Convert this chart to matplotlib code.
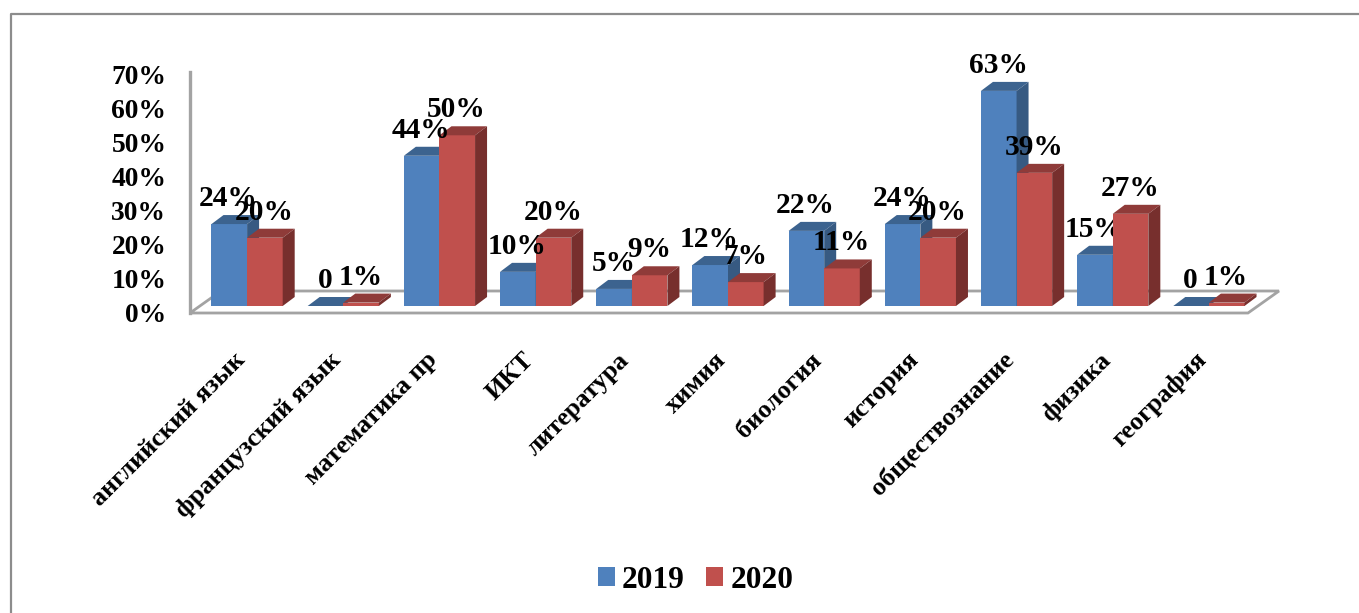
import matplotlib
matplotlib.use('Agg')
import matplotlib.pyplot as plt
from matplotlib.patches import Patch, Polygon
from matplotlib.lines import Line2D

# Данные
predmety = ['английский язык', 'французский язык', 'математика пр', 'ИКТ', 'литература',
            'химия', 'биология', 'история', 'обществознание', 'физика', 'география']
v2019 = [24, 0, 44, 10, 5, 12, 22, 24, 63, 15, 0]
v2020 = [20, 1, 50, 20, 9, 7, 11, 20, 39, 27, 1]
serii = ['2019', '2020']
yticks = [0, 10, 20, 30, 40, 50, 60, 70]

W, H = 1359, 613
plt.rcParams['font.family'] = ['Liberation Serif', 'DejaVu Serif']
plt.rcParams['font.weight'] = 'bold'

fig = plt.figure(figsize=(W / 100, H / 100), dpi=100)

# Оси: передний край пола и левая стенка (в пикселях картинки)
left, right, bottom, top = 190, 1248, 313, 74
ax = fig.add_axes([left / W, 1 - bottom / H, (right - left) / W, (bottom - top) / H])
ax.set_xlim(-0.5, 10.5)
ax.set_ylim(0, 70)
ax.patch.set_visible(False)
for s in ax.spines.values():
    s.set_visible(False)

# Размер одного пикселя в единицах данных
px = 11 / (right - left)
py = 70 / (bottom - top)
GRAY = '#a3a3a3'

# Рамка диаграммы: видны только верх и левый край
fig.add_artist(Line2D([10.5 / W, 10.5 / W, 1], [0, 1 - 14 / H, 1 - 14 / H],
                      transform=fig.transFigure, color='#8c8c8c', lw=1.6))

# Пол и левая стенка
fx, fy = 31 * px, 22 * py
ax.add_patch(Polygon([(-0.5, 0), (10.5, 0), (10.5 + fx, fy), (-0.5 + fx, fy)], closed=True,
                     fill=False, edgecolor=GRAY, lw=2, clip_on=False, zorder=1))
ax.add_line(Line2D([-0.5, -0.5], [0, 70.5], color=GRAY, lw=2.4, clip_on=False, zorder=1))

# Столбцы с псевдо-объёмом
bw = 35.6 * px
sx, sy = 9 * px, 7 * py     # сдвиг столбца от переднего края пола
dx, dy = 12 * px, 9 * py    # глубина столбца


def draw_bar(x0, v, front, face_top, face_side, z):
    x0 = x0 + sx
    base = sy
    ax.bar(x0, v, bw, bottom=base, align='edge', color=front, zorder=z, lw=0)
    ax.add_patch(Polygon([(x0, base + v), (x0 + bw, base + v), (x0 + bw + dx, base + v + dy),
                          (x0 + dx, base + v + dy)], closed=True, facecolor=face_top, lw=0,
                         zorder=z, clip_on=False))
    ax.add_patch(Polygon([(x0 + bw, base), (x0 + bw + dx, base + dy), (x0 + bw + dx, base + v + dy),
                          (x0 + bw, base + v)], closed=True, facecolor=face_side, lw=0,
                         zorder=z, clip_on=False))
    label = f'{v}%' if v else '0'
    ax.annotate(label, (x0 + bw / 2, base + v), xytext=(-0.5, 13), textcoords='offset points',
                ha='center', va='baseline', fontsize=21.2, color='black', zorder=20,
                annotation_clip=False)


for i in range(len(predmety)):
    draw_bar(i - bw, v2019[i], '#4f81bd', '#3c638f', '#375a82', 3 + i * 2)
    draw_bar(i, v2020[i], '#c0504d', '#8f3b39', '#772f2d', 4 + i * 2)

# Подписи осей
ax.set_yticks(yticks)
ax.set_yticklabels([f'{t}%' for t in yticks], fontsize=19.8)
ax.set_xticks([i - 5 * px for i in range(len(predmety))])
ax.set_xticklabels(predmety, rotation=45, ha='right', rotation_mode='anchor', fontsize=18.8)
ax.tick_params(axis='y', length=0, pad=17)
ax.tick_params(axis='x', length=0, pad=25.5)

# Легенда
handles = [Patch(color='#4f81bd', lw=0), Patch(color='#c0504d', lw=0)]
fig.legend(handles, serii, loc='center', bbox_to_anchor=(695.5 / W, 1 - 580 / H), ncol=2, frameon=False,
           fontsize=22.6, handlelength=0.54, handleheight=0.54, handletextpad=0.22,
           columnspacing=0.7, borderpad=0)

fig.savefig('out.png', dpi=100)
